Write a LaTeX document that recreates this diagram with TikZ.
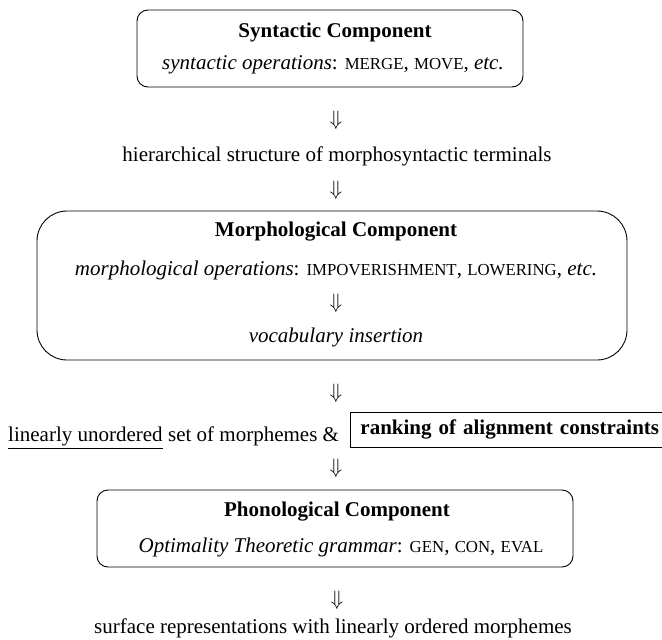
\documentclass[tikz,border=0pt]{standalone}
\usepackage{fontspec}
\setmainfont{Liberation Serif}
\newcommand\fsc[1]{{\fontsize{16.8}{19}\selectfont #1}}
\begin{document}
\begin{tikzpicture}[x=1pt,y=-1pt,
  every node/.style={font=\fontsize{21}{25}\selectfont, inner sep=0pt},
  comp/.style={draw, line width=0.9pt, rounded corners=11pt},
  bigcomp/.style={draw, line width=0.9pt, rounded corners=30pt},
  darr/.style={font=\fontsize{21}{25}\selectfont},
  rankbox/.style={draw, line width=0.9pt, inner xsep=10pt, minimum height=35pt, text width=330pt, align=left, font=\fontsize{21}{25}\selectfont\bfseries}]
\useasboundingbox (0,0) rectangle (662,640);

% Syntactic component
\node[comp, minimum width=386pt, minimum height=77pt] (syn) at (330,48.5) {};
\node (syntitle) at (335,32) {\bfseries Syntactic Component};
\node (synops) at (333,65) {\textit{syntactic operations}: \fsc{MERGE}, \fsc{MOVE}, \textit{etc.}};

\node[darr] (a1) at (336,120) {$\Downarrow$};
\node (hier) at (337,156) {hierarchical structure of morphosyntactic terminals};
\node[darr] (a2) at (336,190) {$\Downarrow$};

% Morphological component
\node[bigcomp, minimum width=590pt, minimum height=149pt] (mor) at (332,285.5) {};
\node (mortitle) at (336,232) {\bfseries Morphological Component};
\node (morops) at (336,270) {\textit{morphological operations}: \fsc{IMPOVERISHMENT}, \fsc{LOWERING}, \textit{etc.}};
\node[darr] (a3) at (336,303) {$\Downarrow$};
\node (voc) at (336,337) {\textit{vocabulary insertion}};

\node[darr] (a4) at (336,393) {$\Downarrow$};

% unordered line
\node[anchor=base west] (lu) at (8,441) {linearly unordered};
\node[anchor=base west] (rest) at ([xshift=5pt]lu.base east) {set of morphemes \&};
\node[rankbox, anchor=west] (rank) at (350,429.5) {ranking of alignment constraints};
\draw[line width=0.9pt] ([yshift=-7pt]lu.base west) -- ([yshift=-7pt]lu.base east);

\node[darr] (a5) at (336,468) {$\Downarrow$};

% Phonological component
\node[comp, minimum width=476pt, minimum height=77pt] (pho) at (335,528.5) {};
\node (photitle) at (337,512) {\bfseries Phonological Component};
\node (phoops) at (341,547) {\textit{Optimality Theoretic grammar}: \fsc{GEN}, \fsc{CON}, \fsc{EVAL}};

\node[darr] (a6) at (337,600) {$\Downarrow$};
\node (surf) at (333,628) {surface representations with linearly ordered morphemes};
\end{tikzpicture}
\end{document}
